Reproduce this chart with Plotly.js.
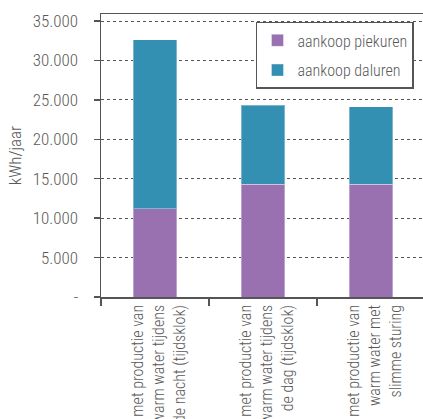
<!DOCTYPE html>
<html>
<head>
<meta charset="utf-8">
<script src="https://cdn.plot.ly/plotly-3.0.1.min.js"></script>
<style>
html,body{margin:0;padding:0;background:#fff;}
#chart{width:423px;height:419px;}
</style>
</head>
<body>
<div id="chart"></div>
<script>
var categories = [
  "met productie van<br>warm water tijdens<br>de nacht (tijdsklok)",
  "met productie van<br>warm water tijdens<br>de dag (tijdsklok)",
  "met productie van<br>warm water met<br>slimme sturing"
];
var piekuren = [11200, 14300, 14300];
var daluren = [21400, 10000, 9800];
var tickValues = [0, 5000, 10000, 15000, 20000, 25000, 30000, 35000];
var tickLabels = ["-", "5.000", "10.000", "15.000", "20.000", "25.000", "30.000", "35.000"];

var FONT = '"Roboto Condensed", "DejaVu Sans Condensed", sans-serif';
var TXT = '#595959';
var F = {family: FONT, size: 17, color: TXT, weight: 300};
var F16 = {family: FONT, size: 16, color: TXT, weight: 300};

var traces = [
  {type: 'bar', name: 'aankoop piekuren', legendgroup: 'p', x: categories, y: piekuren,
   marker: {color: '#9a71b0', line: {color: 'rgba(255,255,255,0.35)', width: 1}}},
  {type: 'bar', name: 'aankoop daluren', legendgroup: 'd', x: categories, y: daluren,
   marker: {color: '#3490b3', line: {color: 'rgba(255,255,255,0.35)', width: 1}}}
];

var layout = {
  width: 423, height: 419,
  margin: {l: 101, r: 0, t: 14, b: 122},
  paper_bgcolor: '#fff', plot_bgcolor: '#fff',
  barmode: 'stack', bargap: 0.6,
  font: F,
  showlegend: true,
  legend: {x: 0.972, y: 0.972, xanchor: 'right', yanchor: 'top',
           traceorder: 'grouped', tracegroupgap: 6,
           bgcolor: '#fff', bordercolor: '#555', borderwidth: 1.5,
           font: F16},
  xaxis: {type: 'category', range: [-0.5, 2.481], tickson: 'boundaries',
          ticks: 'outside', ticklen: 7, tickcolor: '#555', tickwidth: 1.5,
          showline: true, linecolor: '#555', linewidth: 1.5, mirror: true,
          tickangle: -90, showgrid: false, automargin: false,
          ticklabelshift: 4,
          tickfont: F16},
  yaxis: {range: [0, 35890], tickvals: tickValues, ticktext: tickLabels,
          ticks: 'outside', ticklen: 6, tickcolor: '#555', tickwidth: 1.5,
          ticklabelstandoff: 12,
          showline: true, linecolor: '#555', linewidth: 1.5,
          showgrid: true, gridcolor: '#555', griddash: 'dot', gridwidth: 1,
          zeroline: false, automargin: false,
          tickfont: F,
          title: {text: 'kWh/jaar', standoff: 6, font: F}}
};

Plotly.newPlot('chart', traces, layout, {displayModeBar: false, staticPlot: true});
</script>
</body>
</html>
